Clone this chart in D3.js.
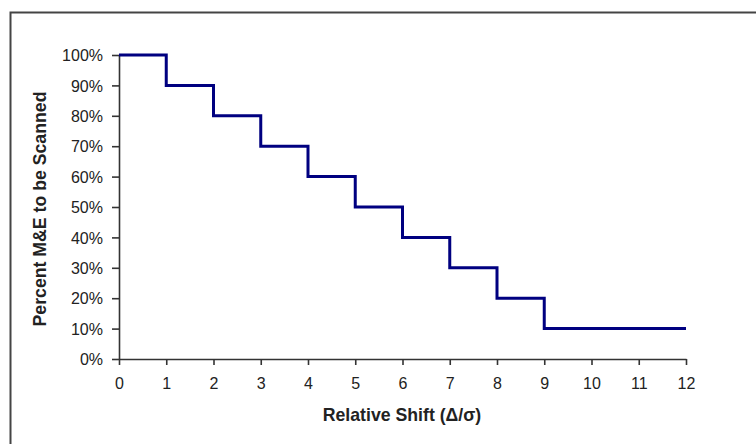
<!DOCTYPE html>
<html>

<head>
    <meta charset="UTF-8">
    <style>
        body { margin: 0; background: #fff; }
        .tick text { font-family: Arial, "Liberation Sans", sans-serif; font-size: 16px; fill: #222; }
        .title { font-family: Arial, "Liberation Sans", sans-serif; font-size: 17.7px; font-weight: bold; fill: #222; }
    </style>
</head>

<body>
    <svg></svg>
    <script src="https://d3js.org/d3.v7.min.js"></script>
    <script>

        let width = 756, height = 444;

        // data
        const shifts = [0, 1, 2, 3, 4, 5, 6, 7, 8, 9, 10, 11, 12];
        const scanned = [1.0, 0.9, 0.8, 0.7, 0.6, 0.5, 0.4, 0.3, 0.2, 0.1, 0.1, 0.1, 0.1];
        const xTicks = [0, 1, 2, 3, 4, 5, 6, 7, 8, 9, 10, 11, 12];
        const yTicks = [0, 0.1, 0.2, 0.3, 0.4, 0.5, 0.6, 0.7, 0.8, 0.9, 1.0];

        let svg = d3.select("svg")
            .attr("width", width)
            .attr("height", height)

        // frame (only top and left edges inside the window)
        svg.append("rect")
            .attr("x", 10.5).attr("y", 12.5)
            .attr("width", 900).attr("height", 600)
            .attr("fill", "none")
            .attr("stroke", "#444")
            .attr("stroke-width", 2)

        let x = d3.scaleLinear().domain([0, 12]).range([119, 686]);
        let y = d3.scaleLinear().domain([0, 1]).range([359, 55]);

        let xAxis = svg.append("g")
            .attr("transform", "translate(0," + y(0) + ")")
            .call(d3.axisBottom(x).tickValues(xTicks).tickSizeInner(6).tickSizeOuter(0).tickPadding(13));

        let yAxis = svg.append("g")
            .attr("transform", "translate(" + x(0) + ",0)")
            .call(d3.axisLeft(y).tickValues(yTicks).tickFormat(d3.format(".0%")).tickSizeInner(7).tickSizeOuter(0).tickPadding(9));

        svg.selectAll(".domain, .tick line")
            .attr("stroke", "#333")
            .attr("stroke-width", 1.6)

        yAxis.selectAll(".tick text").attr("dy", "0.36em")

        let line = d3.line()
            .x((d, i) => x(shifts[i]))
            .y(d => y(d))
            .curve(d3.curveStepAfter);

        svg.append("path")
            .datum(scanned)
            .attr("d", line)
            .attr("fill", "none")
            .attr("stroke", "#000080")
            .attr("stroke-width", 3)

        svg.append("text")
            .attr("class", "title")
            .attr("x", 402)
            .attr("y", 421)
            .attr("text-anchor", "middle")
            .text("Relative Shift (\u0394/\u03C3)")

        svg.append("text")
            .attr("class", "title")
            .attr("transform", "translate(46,209) rotate(-90)")
            .attr("text-anchor", "middle")
            .text("Percent M&E to be Scanned")

    </script>

</body>

</html>
